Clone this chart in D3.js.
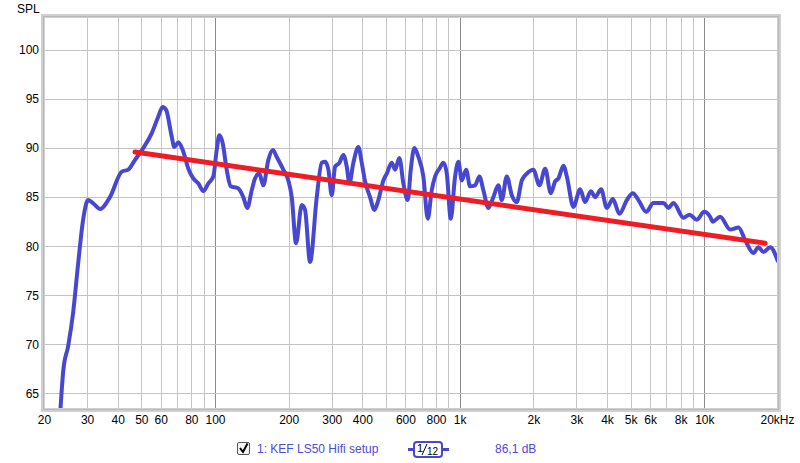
<!DOCTYPE html>
<html><head><meta charset="utf-8">
<script src="https://cdn.jsdelivr.net/npm/d3@7"></script>
<style>body{margin:0;background:#fff}svg{display:block;font-family:"Liberation Sans",Arial,sans-serif}</style>
</head><body><svg id="c" width="800" height="463"></svg>
<script>
const freqs = [23.1,24.0,25.1,26.3,27.6,28.9,30.3,32.0,33.9,37.2,41.6,44.2,47.1,50.9,55.1,58.6,61.1,63.1,66.5,68.2,70.8,73.8,77.8,81.5,85.5,89.6,93.9,98.4,101.6,104.1,107.5,111.6,115.9,124.2,130.5,135.5,141.3,145.7,151.7,157.5,165.2,172.2,178.8,190.2,199.4,205.9,214.4,226.2,233.3,244.6,260.5,273.1,281.7,290.6,300.0,309.5,322.3,334.6,345.5,354.1,367.7,385.4,397.9,410.5,430.2,448.0,465.2,487.7,503.5,527.7,544.4,566.9,588.6,613.5,631.1,652.8,677.9,710.5,740.6,768.9,793.2,826.0,857.9,885.8,919.6,957.7,987.9,1020,1062,1103,1156,1204,1250,1310,1373,1440,1486,1558,1633,1712,1794,1881,2001,2118,2235,2358,2455,2532,2655,2741,2917,3107,3256,3436,3578,3785,3994,4226,4498,4823,5103,5379,5783,6194,6806,7134,7477,8217,8694,9317,9982,10560,10830,11600,12750,13790,14690,15880,16640,17440,18580,19940];
const spl = [61.5,67.4,69.8,73.2,78.3,82.7,84.7,84.3,83.8,85.0,87.6,87.8,88.8,90.0,91.5,93.2,94.2,93.9,91.2,90.1,90.6,89.8,87.9,86.9,86.4,85.6,86.4,87.1,89.8,91.3,90.5,87.8,86.1,85.9,85.0,83.9,85.7,86.9,87.4,86.2,88.8,89.8,89.1,87.8,86.7,85.0,80.3,84.2,83.7,78.4,85.0,88.5,88.6,87.8,85.2,88.1,88.5,89.3,88.1,86.4,88.5,90.1,88.5,86.6,85.0,83.7,84.7,86.7,87.4,88.5,87.8,89.0,86.4,84.7,87.8,90.0,89.1,87.1,82.8,85.7,87.1,87.9,88.5,87.4,82.8,87.1,88.6,86.7,87.8,86.1,86.2,87.1,85.7,83.9,85.0,86.2,84.7,87.1,85.2,84.5,86.7,87.4,87.8,86.2,87.9,85.4,86.6,86.9,88.2,87.1,84.0,85.8,84.5,85.6,85.0,85.8,83.9,84.8,83.3,84.7,85.4,84.7,83.5,84.4,84.4,83.9,84.4,82.9,83.2,82.7,83.5,83.0,82.5,83.0,81.7,81.9,80.6,79.3,79.9,79.4,79.9,78.5];
const targetFreqs = [47.1, 17730];
const targetSpl = [89.6, 80.3];
const yTicks = [65,70,75,80,85,90,95,100];
const xTickValues = [20,30,40,50,60,80,100,200,300,400,600,800,1000,2000,3000,4000,5000,6000,8000,10000,20000];
const xTickLabels = ["20","30","40","50","60","80","100","200","300","400","600","800","1k","2k","3k","4k","5k","6k","8k","10k","20kHz"];
const gridFreqs = [];
[10,100,1000,10000].forEach(d=>{for(let m=1;m<10;m++){const f=d*m; if(f>=20&&f<=20000) gridFreqs.push(f);}});
gridFreqs.push(20000);
const decades = [100,1000,10000];
const legendLabel = "1: KEF LS50 Hifi setup";
const legendValue = "86,1 dB";

const svg = d3.select("#c");
const x = d3.scaleLog().domain([20,20000]).range([44,778]);
const y = d3.scaleLinear().domain([65,100]).range([393.3,50]);
const L=45,T=18,R=777,B=408;

svg.append("rect").attr("x",L).attr("y",T).attr("width",R-L).attr("height",B-T).attr("fill","#fff");
svg.append("defs").append("clipPath").attr("id","clip").append("rect").attr("x",L).attr("y",T).attr("width",R-L).attr("height",B-T);

const g = svg.append("g");
// vertical grid
g.selectAll(".vg").data(gridFreqs).join("line")
 .attr("x1",d=>Math.round(x(d))+0.5).attr("x2",d=>Math.round(x(d))+0.5)
 .attr("y1",T).attr("y2",B)
 .attr("stroke",d=>decades.includes(d)?"#8a8a8a":"#c4c4c4").attr("stroke-width",1);
// horizontal grid
g.selectAll(".hg").data(yTicks).join("line")
 .attr("x1",L).attr("x2",R)
 .attr("y1",d=>Math.round(y(d))+0.5).attr("y2",d=>Math.round(y(d))+0.5)
 .attr("stroke","#c4c4c4").attr("stroke-width",1);

// frame (3D-ish)
svg.append("rect").attr("x",L-2).attr("y",T-2).attr("width",R-L+4).attr("height",B-T+4)
 .attr("fill","none").attr("stroke","#d0d0d0").attr("stroke-width",4);
svg.append("rect").attr("x",L-1.5).attr("y",T-1.5).attr("width",R-L+3).attr("height",B-T+3)
 .attr("fill","none").attr("stroke","#b8b8b8").attr("stroke-width",1);

// axes labels via d3 axes
const yAxis = d3.axisLeft(y).tickValues(yTicks).tickSize(0).tickPadding(0);
const ya = svg.append("g").attr("transform","translate(39,0)").call(yAxis);
ya.select(".domain").remove();
ya.selectAll("text").attr("font-size",12).attr("fill","#000").attr("font-family","Liberation Sans, Arial, sans-serif");

const xAxis = d3.axisBottom(x).tickValues(xTickValues).tickFormat((d,i)=>xTickLabels[i]).tickSize(0).tickPadding(0);
const xa = svg.append("g").attr("transform","translate(0,415)").call(xAxis);
xa.select(".domain").remove();
xa.selectAll("text").attr("font-size",12).attr("fill","#000").attr("font-family","Liberation Sans, Arial, sans-serif");
xa.selectAll(".tick").filter(d=>d===20000).select("text").attr("text-anchor","end").attr("dx","16");

svg.append("text").attr("x",17).attr("y",13).attr("font-size",12).attr("fill","#000").text("SPL");

// curve
const pts = freqs.map((f,i)=>[f,spl[i]]);
const line = d3.line().x(d=>x(d[0])).y(d=>y(d[1])).curve(d3.curveMonotoneX);
svg.append("path").attr("clip-path","url(#clip)").attr("d",line(pts))
 .attr("fill","none").attr("stroke","#4747d1").attr("stroke-width",4).attr("stroke-linejoin","round").attr("stroke-linecap","round");

const tpts = targetFreqs.map((f,i)=>[f,targetSpl[i]]);
svg.append("path").attr("d",d3.line().x(d=>x(d[0])).y(d=>y(d[1]))(tpts))
 .attr("fill","none").attr("stroke","#ee1c24").attr("stroke-width",5).attr("stroke-linecap","round");

// legend
const lg = svg.append("g");
lg.append("rect").attr("x",237.5).attr("y",442.5).attr("width",12).attr("height",12).attr("rx",1.5)
 .attr("fill","#f4f4f4").attr("stroke","#555").attr("stroke-width",1);
lg.append("path").attr("d","M240,448 L243,452 L247.5,443.5").attr("fill","none").attr("stroke","#000").attr("stroke-width",2);
lg.append("text").attr("x",257).attr("y",453).attr("font-size",12).attr("fill","#4b4bdc").text(legendLabel);
lg.append("line").attr("x1",408).attr("x2",449).attr("y1",449.5).attr("y2",449.5).attr("stroke","#4747d1").attr("stroke-width",3);
lg.append("rect").attr("x",414).attr("y",442).attr("width",28).attr("height",15).attr("rx",3)
 .attr("fill","#fff").attr("stroke","#4747d1").attr("stroke-width",2);
lg.append("text").attr("x",417).attr("y",452).attr("font-size",11).attr("fill","#000").text("1");
lg.append("line").attr("x1",422).attr("y1",455).attr("x2",427).attr("y2",444).attr("stroke","#000").attr("stroke-width",1);
lg.append("text").attr("x",427).attr("y",455).attr("font-size",10).attr("fill","#000").text("12");
lg.append("text").attr("x",495).attr("y",453).attr("font-size",12).attr("fill","#4b4bdc").text(legendValue);
</script></body></html>
